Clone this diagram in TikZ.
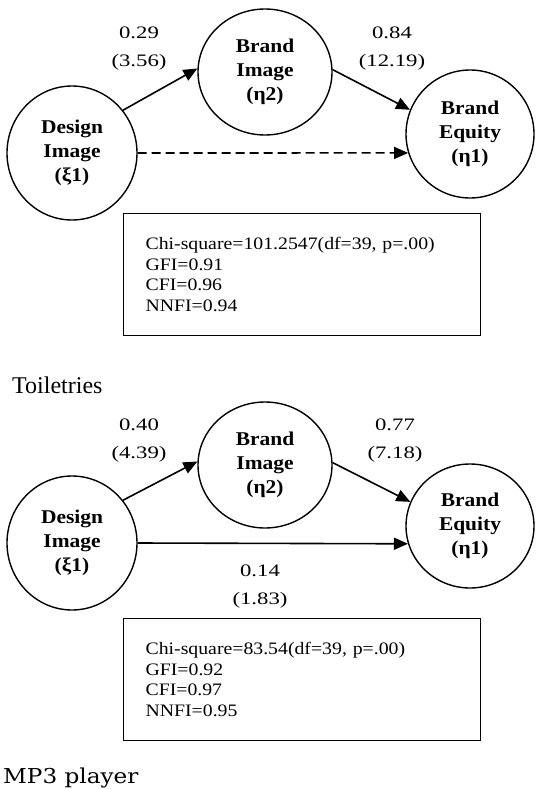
\documentclass[tikz,border=0pt]{standalone}
\usepackage{fontspec}
\setmainfont{Liberation Serif}
\newfontfamily\boldwide[FakeStretch=1.1]{Liberation Serif}
\newfontfamily\coefwide[FakeStretch=1.3]{Liberation Serif}
\newfontfamily\boxwide[FakeStretch=1.13]{Liberation Serif}
\newfontfamily\capfont[FakeStretch=1.13]{DejaVu Serif}
\usetikzlibrary{shapes.geometric,arrows.meta}
\tikzset{
  latent/.style={draw, line width=1.4pt, ellipse, inner sep=0pt, align=center,
    font=\boldwide\bfseries\fontsize{19.5}{24}\selectfont},
  pathline/.style={line width=1.6pt, -{Triangle[length=14pt,width=12pt]}},
  coef/.style={align=center, inner sep=0pt, font=\coefwide\fontsize{17.5}{28}\selectfont},
  fitbox/.style={draw, line width=1.2pt, anchor=north west, inner xsep=22pt, inner ysep=0pt,
    text width=313pt, minimum height=122pt, align=left,
    font=\boxwide\fontsize{17.5}{20.5}\selectfont},
  caption/.style={anchor=base west, inner sep=0pt}
}
\begin{document}
\begin{tikzpicture}[x=1pt,y=-1pt]
\useasboundingbox (0,0) rectangle (537,789);
% ---------- Toiletries ----------
\node[latent, minimum width=130pt, minimum height=134pt] (d1) at (72,153) {Design\\Image\\(ξ1)};
\node[latent, minimum width=134pt, minimum height=126pt] (bi1) at (265,72) {Brand\\Image\\(η2)};
\node[latent, minimum width=128pt, minimum height=128pt] (be1) at (470,134) {Brand\\Equity\\(η1)};
\draw[pathline] (d1.40) -- (bi1.177);
\draw[pathline] (bi1.2) -- (be1.158);
\draw[pathline, dash pattern=on 9pt off 5pt] (d1.east) -- (be1.197);
\node[coef] (c1a) at (139,49) {0.29\\(3.56)};
\node[coef] (c1b) at (392,49) {0.84\\(12.19)};
\node[fitbox] (fit1) at (123,213) {Chi-square=101.2547(df=39, p=.00)\\GFI=0.91\\CFI=0.96\\NNFI=0.94};
\node[caption, font=\fontsize{24}{28}\selectfont] (cap1) at (12,393) {Toiletries};
% ---------- MP3 player ----------
\node[latent, minimum width=130pt, minimum height=134pt] (d2) at (72,543) {Design\\Image\\(ξ1)};
\node[latent, minimum width=134pt, minimum height=126pt] (bi2) at (265,465) {Brand\\Image\\(η2)};
\node[latent, minimum width=128pt, minimum height=124pt] (be2) at (470,526) {Brand\\Equity\\(η1)};
\draw[pathline] (d2.40) -- (bi2.177);
\draw[pathline] (bi2.2) -- (be2.158);
\draw[pathline] (d2.east) -- (be2.196);
\node[coef] (c2a) at (139,441) {0.40\\(4.39)};
\node[coef] (c2b) at (395,441) {0.77\\(7.18)};
\node[coef] (c2c) at (260,587) {0.14\\(1.83)};
\node[fitbox] (fit2) at (123,618) {Chi-square=83.54(df=39, p=.00)\\GFI=0.92\\CFI=0.97\\NNFI=0.95};
\node[caption, font=\capfont\fontsize{20.5}{24}\selectfont] (cap2) at (3,783) {MP3 player};
\end{tikzpicture}
\end{document}
